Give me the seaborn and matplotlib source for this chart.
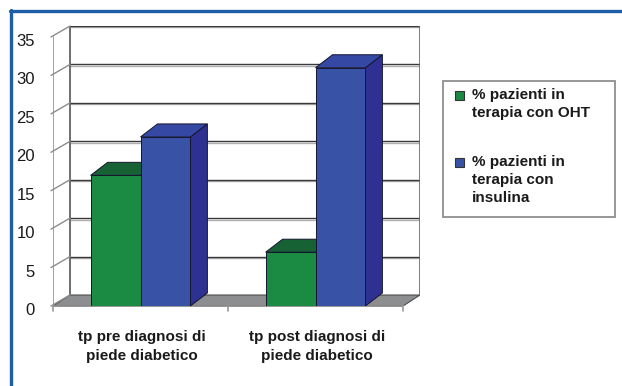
import numpy as np
import pandas as pd
import matplotlib
matplotlib.use("Agg")
import matplotlib.pyplot as plt
import matplotlib.transforms as mtransforms
from matplotlib.patches import Polygon, Rectangle
from matplotlib.lines import Line2D
import seaborn as sns

# ---- data ----
categories = ["tp pre diagnosi di\npiede diabetico", "tp post diagnosi di\npiede diabetico"]
series = ["% pazienti in\nterapia con OHT", "% pazienti in\nterapia con\ninsulina"]
oht_values = [17, 7]
insulina_values = [22, 31]
y_ticks = [0, 5, 10, 15, 20, 25, 30, 35]

# ---- styles ----
front_colors = ["#1b8a43", "#3853a5"]
top_colors = ["#176235", "#3549a4"]
side_colors = ["#145a2f", "#2e3192"]

sns.set_theme(style="white")
plt.rcParams["font.family"] = ["Liberation Sans", "DejaVu Sans"]

df = pd.DataFrame({
    "categoria": categories * 2,
    "serie": [series[0]] * len(categories) + [series[1]] * len(categories),
    "valore": oht_values + insulina_values,
})

W, H = 622, 386
fig = plt.figure(figsize=(W / 100, H / 100), dpi=100)
fig.patch.set_facecolor("white")

ax_l, ax_r, ax_t, ax_b = 53, 420, 26, 306
ax = fig.add_axes([ax_l / W, (H - ax_b) / H, (ax_r - ax_l) / W, (ax_b - ax_t) / H])

WALL_DX_PX, WALL_DY_PX = 17, 11
BAR_DX_PX, BAR_DY_PX = 17, 13
n_cat = len(categories)
ux = n_cat / ((ax_r - ax_l) - WALL_DX_PX)          # data units per px (x)
front_h = (ax_b - ax_t) - WALL_DY_PX
uy = y_ticks[-1] / front_h                          # data units per px (y)
wdx, wdy = WALL_DX_PX * ux, WALL_DY_PX * uy
bdx, bdy = BAR_DX_PX * ux, BAR_DY_PX * uy
x0, x1 = -0.5, n_cat - 0.5
ytop = y_ticks[-1]

sns.barplot(data=df, x="categoria", y="valore", hue="serie", order=categories,
            hue_order=series, palette=front_colors, width=0.57, saturation=1,
            edgecolor="#151530", linewidth=0.7, legend=False, ax=ax)

ax.set_xlim(x0, x1 + wdx)
ax.set_ylim(0, ytop + wdy)

# ---- walls / floor ----
floor = Polygon([(x0, 0), (x1, 0), (x1 + wdx, wdy), (x0 + wdx, wdy)],
                closed=True, fc="#8d8e90", ec="#4d4d4d", lw=0.8, zorder=0.5)
ax.add_patch(floor)
shadow = ax.transData + mtransforms.ScaledTranslation(0, -0.015, fig.dpi_scale_trans)
for v in y_ticks[1:]:
    ax.plot([x0 + wdx, x1 + wdx], [v + wdy, v + wdy], color="#b0b0b0", lw=1.0,
            zorder=0.6, solid_capstyle="butt", transform=shadow)
    ax.plot([x0 + wdx, x1 + wdx], [v + wdy, v + wdy], color="#3a3a3a", lw=1.0, zorder=0.7)
ax.plot([x0 + wdx, x0 + wdx], [wdy, ytop + wdy], color="#555555", lw=1.2, zorder=0.8)
ax.plot([x1 + wdx, x1 + wdx], [wdy, ytop + wdy], color="#666666", lw=1.2, zorder=0.8)
ax.plot([x0, x0], [0, ytop], color="#9a9a9a", lw=1.3, zorder=0.8)
for v in y_ticks:
    ax.plot([x0 - 2 * ux, x0 + wdx], [v, v + wdy], color="#8c8c8c", lw=1.0, zorder=0.8,
            clip_on=False)
ax.plot([x0, x1], [0, 0], color="#8c8c8c", lw=1.3, zorder=0.8, clip_on=False)
for xt in np.arange(x0, x1 + 0.01, 1.0):
    ax.plot([xt, xt], [0, -5 * uy], color="#9a9a9a", lw=1.2, clip_on=False, zorder=0.8)

# ---- 3D faces of bars ----
bars = []
for ci, cont in enumerate(ax.containers):
    for bar in cont:
        bars.append((bar.get_x(), ci, bar))
bars.sort(key=lambda t: t[0])
for rank, (_, ci, bar) in enumerate(bars):
    x, w, h = bar.get_x(), bar.get_width(), bar.get_height()
    z = 2 + rank * 3
    side = Polygon([(x + w, 0), (x + w + bdx, bdy), (x + w + bdx, h + bdy), (x + w, h)],
                   closed=True, fc=side_colors[ci], ec="#151530", lw=0.7, zorder=z)
    top = Polygon([(x, h), (x + bdx, h + bdy), (x + w + bdx, h + bdy), (x + w, h)],
                  closed=True, fc=top_colors[ci], ec="#151530", lw=0.7, zorder=z + 1)
    ax.add_patch(side)
    ax.add_patch(top)
    bar.set_zorder(z + 2)

# ---- axes text ----
for s in ax.spines.values():
    s.set_visible(False)
ax.set_xlabel("")
ax.set_ylabel("")
ax.set_yticks(y_ticks)
ax.tick_params(axis="y", length=0, pad=13, labelsize=12, labelcolor="#1a1a1a")
ax.tick_params(axis="x", length=0, pad=17, labelsize=11, labelcolor="#1a1a1a")
for lbl in ax.get_yticklabels():
    lbl.set_transform(lbl.get_transform() + mtransforms.ScaledTranslation(0, -0.03, fig.dpi_scale_trans))
for lbl in ax.get_xticklabels():
    lbl.set_fontweight("bold")
    lbl.set_linespacing(1.45)
    lbl.set_transform(lbl.get_transform() + mtransforms.ScaledTranslation(0.015, 0, fig.dpi_scale_trans))

# ---- legend (manual, matching Excel layout) ----
fig.add_artist(Rectangle((443 / W, 1 - 217 / H), (615 - 443) / W, (217 - 81) / H,
                         transform=fig.transFigure, fill=False, ec="#8f8f8f", lw=1.3))
leg_y = [91, 158]
for i, name in enumerate(series):
    fig.add_artist(Rectangle((455 / W, 1 - (leg_y[i] + 9) / H), 9 / W, 9 / H,
                             transform=fig.transFigure, fc=front_colors[i], ec="#333333", lw=0.8))
    fig.text(472 / W, 1 - (leg_y[i] - 3) / H, name, ha="left", va="top", fontsize=11,
             fontweight="bold", color="#1a1a1a", linespacing=1.38)

# ---- blue frame ----
fig.add_artist(Line2D([10 / W, 1], [1 - 10.5 / H] * 2, transform=fig.transFigure,
                      color="#1d5ea6", lw=2.4))
fig.add_artist(Line2D([10.5 / W] * 2, [0, 1 - 10 / H], transform=fig.transFigure,
                      color="#1d5ea6", lw=2.4))

fig.savefig("out.png", dpi=100, facecolor="white")
